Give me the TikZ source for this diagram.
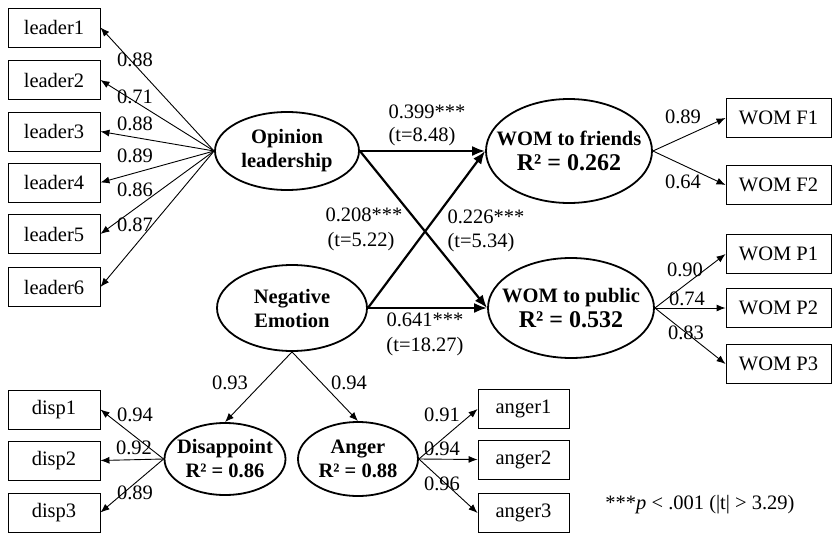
\documentclass[tikz,border=0pt]{standalone}
\usepackage{fontspec}
\setmainfont{Liberation Serif}
\usetikzlibrary{shapes.geometric,arrows.meta}

\begin{document}
\begin{tikzpicture}[x=1pt,y=-1pt,
  every node/.style={font=\fontsize{20.5}{24}\selectfont},
  ind/.style={draw, line width=0.9pt, minimum width=92pt, minimum height=39pt, inner sep=0pt},
  wom/.style={ind, minimum width=105pt},
  lat/.style={draw, ellipse, line width=1.8pt, inner sep=-30pt, align=center,
              font=\fontsize{20.5}{24}\selectfont\bfseries},
  load/.style={line width=0.9pt, -{Latex[length=9pt,width=7pt]}},
  struct/.style={line width=2.2pt, -{Latex[length=13pt,width=10pt]}},
  coef/.style={inner sep=0pt},
]
\useasboundingbox (0,0) rectangle (833,533);

% latent constructs
\node[lat, minimum width=144pt, minimum height=78pt] (ol) at (287,151) {Opinion\\leadership};
\node[lat, minimum width=150pt, minimum height=86pt] (ne) at (292,308) {Negative\\Emotion};
\node[lat, minimum width=166pt, minimum height=104pt] (wf) at (569,151)
  {WOM to friends\\[1pt]{\fontsize{24}{28}\selectfont R² = 0.262}};
\node[lat, minimum width=166pt, minimum height=100pt] (wp) at (571,308)
  {WOM to public\\[1pt]{\fontsize{24}{28}\selectfont R² = 0.532}};
\node[lat, minimum width=121pt, minimum height=72pt] (dis) at (225,459) {Disappoint\\R² = 0.86};
\node[lat, minimum width=120pt, minimum height=74pt] (ang) at (358,459) {Anger\\R² = 0.88};

% indicators of opinion leadership
\node[ind] (l1) at (54,27.5) {leader1};
\node[ind] (l2) at (54,80) {leader2};
\node[ind] (l3) at (54,131.5) {leader3};
\node[ind] (l4) at (54,182.5) {leader4};
\node[ind] (l5) at (54,234) {leader5};
\node[ind] (l6) at (54,287) {leader6};

% indicators of word of mouth
\node[wom] (f1) at (778.5,118) {WOM F1};
\node[wom] (f2) at (778.5,185) {WOM F2};
\node[wom] (p1) at (778.5,254) {WOM P1};
\node[wom] (p2) at (778.5,308) {WOM P2};
\node[wom] (p3) at (778.5,364) {WOM P3};

% indicators of disappointment and anger
\node[ind] (d1) at (54,409.5) {disp1};
\node[ind] (d2) at (54,460.5) {disp2};
\node[ind] (d3) at (54,512.5) {disp3};
\node[ind, minimum width=91pt] (a1) at (523.5,409) {anger1};
\node[ind, minimum width=91pt] (a2) at (523.5,459.5) {anger2};
\node[ind, minimum width=91pt] (a3) at (523.5,513) {anger3};

% measurement paths
\foreach \b in {l1,l2,l3,l4,l5,l6} \draw[load] (ol.west) -- (\b.east);
\foreach \b in {f1,f2} \draw[load] (wf.east) -- (\b.west);
\foreach \b in {p1,p2,p3} \draw[load] (wp.east) -- (\b.west);
\foreach \b in {d1,d2,d3} \draw[load] (dis.west) -- (\b.east);
\foreach \b in {a1,a2,a3} \draw[load] (ang.east) -- (\b.west);
\draw[load] (ne.south) -- (dis.north);
\draw[load] (ne.south) -- (ang.north);

% structural paths
\draw[struct] (ol.east) -- (wf.west);
\draw[struct] (ol.east) -- (wp.west);
\draw[struct] (ne.east) -- (wf.west);
\draw[struct] (ne.east) -- (wp.west);

% loadings
\node[coef] (c1) at (135,60) {0.88};
\node[coef] (c2) at (135,97) {0.71};
\node[coef] (c3) at (135,124) {0.88};
\node[coef] (c4) at (135,156) {0.89};
\node[coef] (c5) at (135,190) {0.86};
\node[coef] (c6) at (135,225) {0.87};
\node[coef] (cf1) at (683,117) {0.89};
\node[coef] (cf2) at (683,182) {0.64};
\node[coef] (cp1) at (685,270) {0.90};
\node[coef] (cp2) at (687,299) {0.74};
\node[coef] (cp3) at (686,333) {0.83};
\node[coef] (cd) at (230,383) {0.93};
\node[coef] (ca) at (349,383) {0.94};
\node[coef] (cd1) at (135,415) {0.94};
\node[coef] (cd2) at (134,448) {0.92};
\node[coef] (cd3) at (135,493) {0.89};
\node[coef] (ca1) at (442,415) {0.91};
\node[coef] (ca2) at (442,449) {0.94};
\node[coef] (ca3) at (442,484) {0.96};

% path coefficients
\node[coef] (s1) at (427,112) {0.399***};
\node[coef] (t1) at (422,137) {(t=8.48)};
\node[coef] (s2) at (364,215) {0.208***};
\node[coef] (t2) at (361,242) {(t=5.22)};
\node[coef] (s3) at (486,217) {0.226***};
\node[coef] (t3) at (481,243) {(t=5.34)};
\node[coef] (s4) at (425,320) {0.641***};
\node[coef] (t4) at (425,347) {(t=18.27)};

% significance note
\node[coef] (note) at (700,505) {***\textit{p} < .001 (|t| > 3.29)};
\end{tikzpicture}
\end{document}
